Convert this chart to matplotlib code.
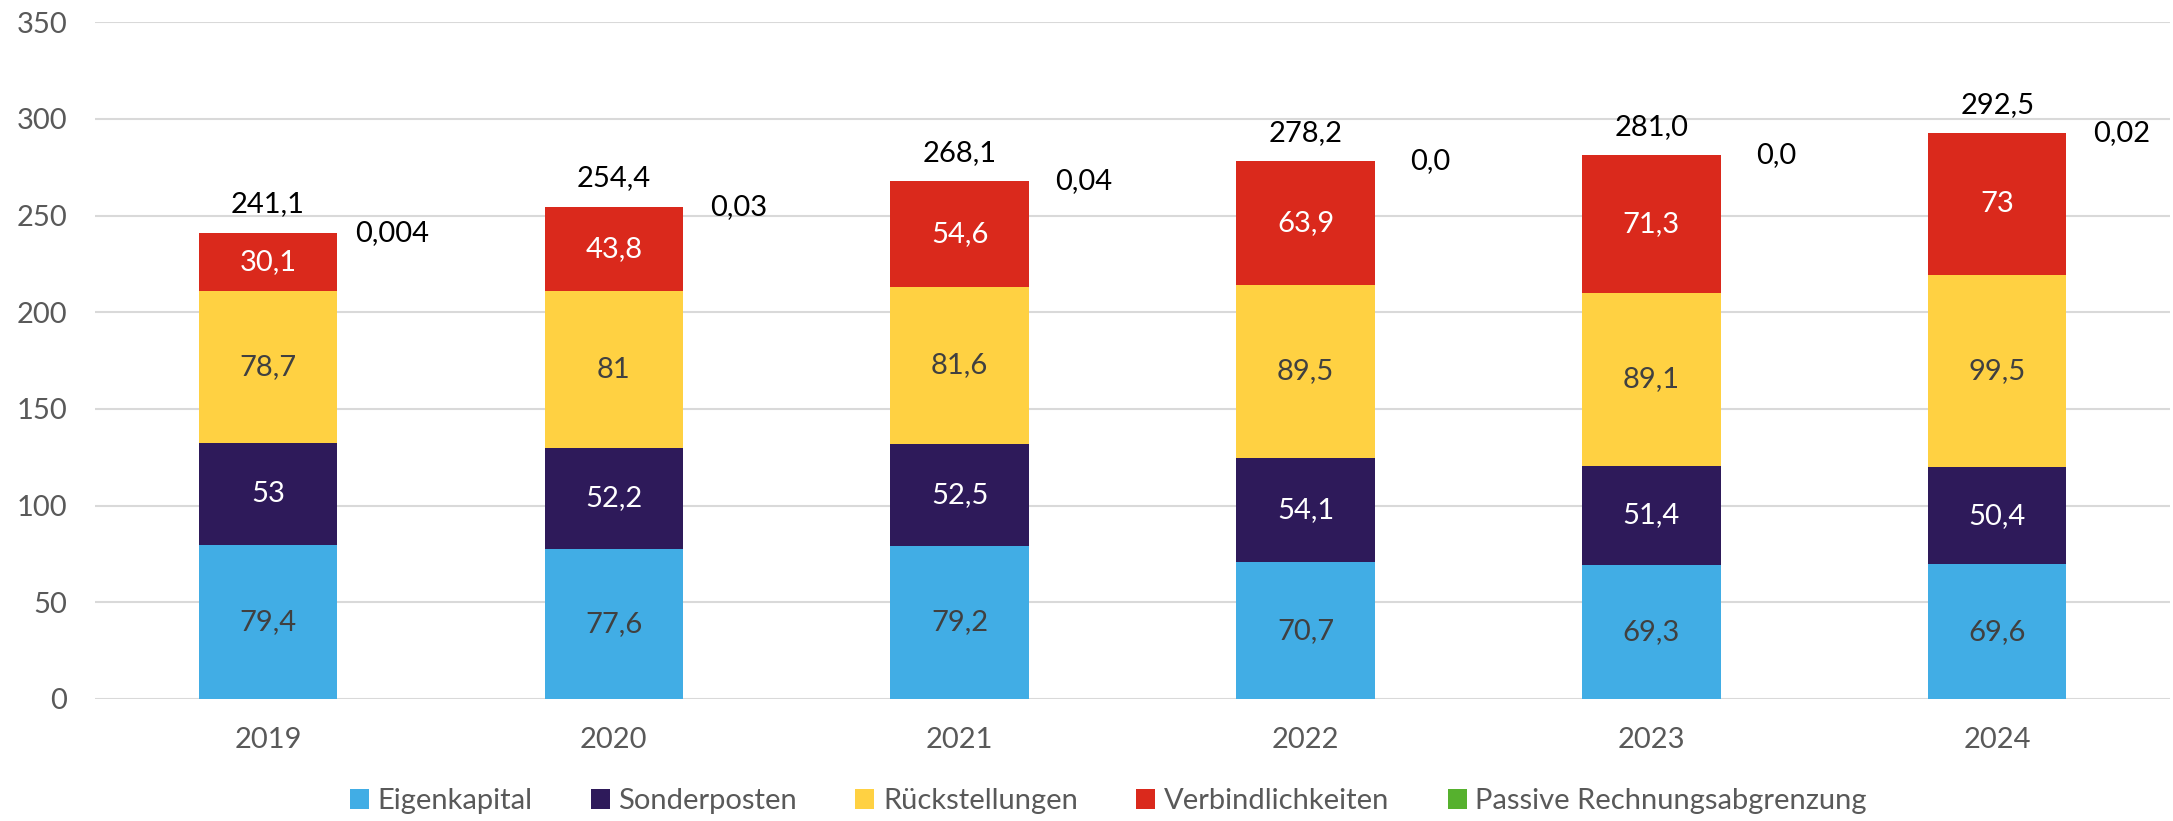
import numpy as np
import matplotlib
matplotlib.use("Agg")
import matplotlib.pyplot as plt
from matplotlib.patches import Patch

plt.rcParams["font.family"] = ["Lato", "DejaVu Sans"]

# ── Data ──────────────────────────────────────────────────────────────────────
years = ["2019", "2020", "2021", "2022", "2023", "2024"]
eigenkapital      = [79.4, 77.6, 79.2, 70.7, 69.3, 69.6]
sonderposten      = [53.0, 52.2, 52.5, 54.1, 51.4, 50.4]
rueckstellungen   = [78.7, 81.0, 81.6, 89.5, 89.1, 99.5]
verbindlichkeiten = [30.1, 43.8, 54.6, 63.9, 71.3, 73.0]
prap              = [0.004, 0.03, 0.04, 0.0, 0.0, 0.02]
prap_labels       = ["0,004", "0,03", "0,04", "0,0", "0,0", "0,02"]
totals            = [241.1, 254.4, 268.1, 278.2, 281.0, 292.5]

series = [
    ("Eigenkapital", eigenkapital, "#41ADE5", "#404040"),
    ("Sonderposten", sonderposten, "#2E1A5A", "white"),
    ("Rückstellungen", rueckstellungen, "#FFD142", "#404040"),
    ("Verbindlichkeiten", verbindlichkeiten, "#DA291C", "white"),
    ("Passive Rechnungsabgrenzung", prap, "#56B12E", None),
]

FS = 21

def de(v):
    return f"{v:g}".replace(".", ",")

# ── Plot ──────────────────────────────────────────────────────────────────────
fig = plt.figure(figsize=(21.73, 8.21), dpi=100)
ax = fig.add_axes([0.0437, 0.1486, 0.955, 0.8244])

x = np.arange(len(years))
bottom = np.zeros(len(years))
for name, vals, color, txt in series:
    vals = np.array(vals)
    ax.bar(x, vals, 0.4, bottom=bottom, color=color, zorder=3)
    if txt is not None:
        for xi, b, v in zip(x, bottom, vals):
            ax.text(xi, b + v / 2, de(v), ha="center", va="center",
                    fontsize=FS, color=txt, zorder=4)
    bottom = bottom + vals

# totals above bars, PRAP labels to the right of bar tops
for xi, top, tot, pl in zip(x, bottom, totals, prap_labels):
    ax.annotate(f"{tot:.1f}".replace(".", ","), (xi, top), xytext=(0, 11),
                textcoords="offset points", ha="center", va="bottom",
                fontsize=FS, color="black")
    ax.annotate(pl, (xi + 0.36, top), xytext=(0, 0), textcoords="offset points",
                ha="center", va="center", fontsize=FS, color="black")

ax.set_xlim(-0.5, len(years) - 0.5)
ax.set_ylim(0, 350)
ax.set_yticks(range(0, 351, 50))
ax.set_xticks(x)
ax.set_xticklabels(years)
ax.tick_params(axis="both", length=0, labelsize=FS, colors="#595959")
ax.tick_params(axis="y", pad=20)
ax.tick_params(axis="x", pad=20)
ax.grid(axis="y", color="#D9D9D9", linewidth=1.5, zorder=0)
for s in ax.spines.values():
    s.set_visible(False)

handles = [Patch(facecolor=c, label=n) for n, _, c, _ in series]
leg = fig.legend(handles=handles, loc="center", bbox_to_anchor=(0.51, 0.024),
                 ncol=5, frameon=False, fontsize=FS, handlelength=0.65,
                 handleheight=0.65, handletextpad=0.3, columnspacing=2.0)
for t in leg.get_texts():
    t.set_color("#595959")

plt.savefig("out.png", dpi=100)
